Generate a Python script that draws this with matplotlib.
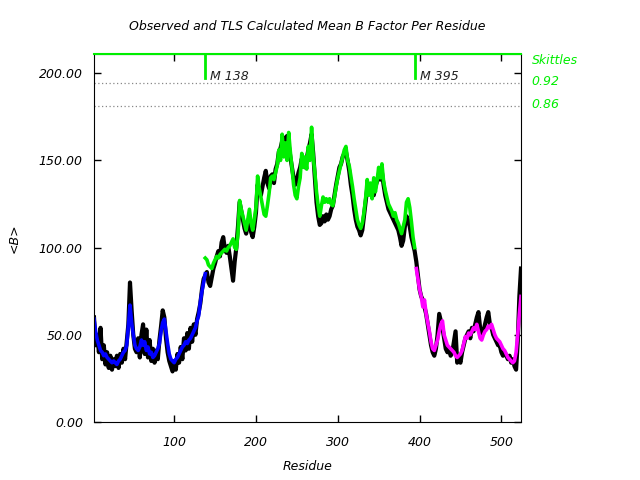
import numpy as np
import matplotlib
matplotlib.use('Agg')
import matplotlib.pyplot as plt
import matplotlib.transforms as mtransforms

# observed mean B per residue (every 2nd residue, starting at 2)
obs_b = [60, 44, 50, 40, 54, 36, 44, 33, 40, 31, 38, 30, 36, 32, 38, 31, 39, 34, 42, 36,
         46, 56, 80, 64, 50, 42, 40, 48, 37, 50, 56, 39, 53, 37, 47, 35, 42, 34, 41, 36,
         47, 55, 64, 60, 48, 40, 35, 32, 29, 35, 30, 39, 34, 43, 36, 48, 41, 51, 42, 54,
         46, 56, 50, 59, 63, 68, 76, 82, 84, 86, 80, 78, 83, 88, 91, 95, 98, 95, 103, 106,
         99, 97, 101, 95, 88, 81, 92, 100, 112, 126, 121, 116, 111, 108, 113, 118, 109, 106, 112, 120,
         136, 133, 130, 135, 140, 144, 137, 134, 141, 142, 137, 145, 148, 155, 157, 161, 156, 163, 164, 159,
         152, 146, 140, 136, 139, 143, 146, 151, 147, 146, 151, 156, 160, 165, 154, 140, 126, 118, 113, 114,
         118, 115, 119, 116, 118, 122, 124, 130, 136, 141, 146, 148, 152, 154, 155, 150, 144, 136, 130, 122,
         116, 112, 110, 107, 110, 118, 126, 134, 136, 133, 132, 130, 135, 138, 142, 139, 143, 136, 130, 126,
         122, 120, 118, 116, 114, 112, 110, 106, 101, 104, 112, 118, 116, 112, 106, 102, 98, 92, 84, 76,
         72, 70, 66, 62, 56, 50, 44, 40, 38, 42, 50, 62, 58, 54, 48, 42, 40, 42, 38, 40,
         46, 52, 34, 36, 34, 40, 44, 48, 50, 52, 48, 54, 52, 56, 60, 63, 54, 50, 52, 56,
         60, 63, 56, 54, 50, 48, 46, 44, 44, 40, 38, 40, 38, 36, 38, 34, 36, 32, 30, 46,
         72, 88]

# TLS calculated, one array per TLS group (every 2nd residue)
tls1_start = 2
tls1_b = [59, 52, 47, 44, 41, 40, 38, 39, 37, 36, 35, 34, 35, 34, 33, 35, 36, 38, 40, 41,
          44, 55, 67, 57, 50, 44, 42, 41, 43, 47, 44, 46, 41, 43, 39, 40, 37, 38, 40, 42,
          45, 52, 57, 59, 52, 45, 39, 36, 35, 34, 36, 37, 39, 41, 43, 44, 46, 45, 47, 48,
          50, 52, 54, 58, 61, 69, 75, 80, 85]

tls2_start = 138
tls2_b = [94, 93, 90, 89, 88, 91, 93, 95, 94, 96, 97, 98, 99, 98, 100, 101, 103, 105, 100, 99,
          108, 127, 122, 118, 114, 110, 116, 122, 114, 110, 116, 123, 141, 134, 129, 124, 119, 118, 124, 131,
          140, 141, 139, 143, 147, 156, 150, 165, 152, 160, 150, 166, 155, 146, 136, 130, 128, 135, 140, 154,
          146, 152, 145, 158, 150, 169, 152, 143, 132, 124, 118, 124, 129, 126, 128, 126, 128, 125, 124, 129,
          135, 140, 144, 148, 152, 156, 158, 150, 147, 141, 135, 128, 122, 116, 113, 111, 114, 120, 128, 139,
          130, 137, 128, 140, 132, 138, 146, 140, 148, 138, 133, 129, 125, 123, 121, 118, 120, 116, 114, 111,
          108, 112, 116, 126, 128, 123, 115, 106, 100]

tls3_start = 396
tls3_b = [88, 82, 76, 72, 66, 70, 62, 57, 52, 46, 42, 41, 44, 47, 52, 56, 58, 50, 47,
          44, 43, 42, 41, 40, 38, 37, 38, 39, 41, 45, 49, 48, 51, 50, 52, 54, 53, 56, 52,
          48, 47, 50, 52, 53, 55, 54, 56, 53, 50, 48, 47, 46, 44, 42, 41, 39, 37, 36, 35,
          34, 35, 40, 50, 62, 72]

markers = [138, 395]
skittles = [0.92, 0.86]
skittle_y = [194.3, 181.1]

obs_res = np.arange(2, 2 + 2 * len(obs_b), 2)
tls1_res = np.arange(tls1_start, tls1_start + 2 * len(tls1_b), 2)
tls2_res = np.arange(tls2_start, tls2_start + 2 * len(tls2_b), 2)
tls3_res = np.arange(tls3_start, tls3_start + 2 * len(tls3_b), 2)

green = '#00ee00'
font = {'family': 'DejaVu Sans', 'style': 'italic', 'size': 9}

fig = plt.figure(figsize=(6.4, 4.8), dpi=100)
ax = fig.add_axes([94 / 640, 58 / 480, 427 / 640, 368 / 480])

ax.plot(obs_res, obs_b, color='black', lw=3.0)
ax.plot(tls1_res, tls1_b, color='#0000ff', lw=2.6)
ax.plot(tls2_res, tls2_b, color=green, lw=2.6)
ax.plot(tls3_res, tls3_b, color='#ff00ff', lw=2.6)

ax.set_xlim(2, 524)
ax.set_ylim(0, 211)

for yv in skittle_y:
    ax.axhline(yv, color='#888888', lw=0.9, ls=(0, (1, 2)))

ax.axhline(211, color=green, lw=1.5, clip_on=False, zorder=5)
for m in markers:
    ax.plot([m, m], [211, 197], color=green, lw=2, clip_on=False, zorder=5)
    ax.text(m + 6, 198, 'M %d' % m, ha='left', va='center', color='#222222', **font)

trans = mtransforms.blended_transform_factory(ax.transAxes, ax.transData)
ax.text(1.025, 207, 'Skittles', transform=trans, ha='left', va='center', color=green, **font)
for val, yv in zip(skittles, skittle_y):
    ax.text(1.025, yv + 1, '%.2f' % val, transform=trans, ha='left', va='center', color=green, **font)

ax.set_xticks([100, 200, 300, 400, 500])
ax.set_yticks([0, 50, 100, 150, 200])
ax.set_yticklabels(['%.2f' % v for v in [0, 50, 100, 150, 200]])
ax.tick_params(direction='in', length=5, width=1, top=True, right=True, pad=8)
ax.tick_params(axis='x', pad=10)
for lab in ax.get_xticklabels() + ax.get_yticklabels():
    lab.set_fontfamily('DejaVu Sans')
    lab.set_fontstyle('italic')
    lab.set_fontsize(9)

ax.set_title('Observed and TLS Calculated Mean B Factor Per Residue', pad=17, **font)
ax.set_xlabel('Residue', labelpad=8, **font)
ax.set_ylabel('<B>', labelpad=13, **font)

fig.savefig('out.png', dpi=100)
